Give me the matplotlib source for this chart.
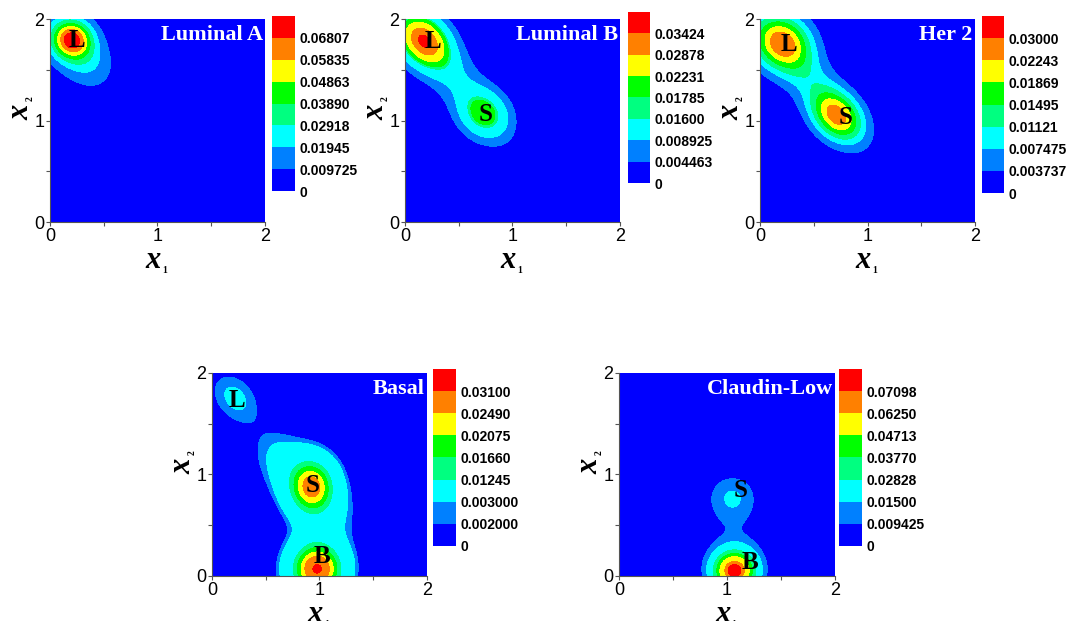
"""
Probability landscapes for the five breast cancer subtypes (filled contours).
"""

import numpy as np
import matplotlib
matplotlib.use("Agg")
import matplotlib.pyplot as plt

plt.rcParams["font.family"] = ["Liberation Sans", "DejaVu Sans"]

# colour of each band, lowest to highest
band_colors = ["#0000ff", "#0080ff", "#00ffff", "#00ff80",
               "#00ff00", "#ffff00", "#ff8000", "#ff0000"]

# peaks: (x1, x2, height, spread along, spread across, angle deg)
lum_a_peaks = [(0.20, 1.80, 0.050, 0.12, 0.12, 0),
               (0.25, 1.71, 0.030, 0.27, 0.17, -55)]
lum_b_peaks = [(0.17, 1.79, 0.030, 0.20, 0.15, -53),
               (0.74, 1.06, 0.016, 0.17, 0.15, -50),
               (0.46, 1.43, 0.009, 0.50, 0.16, -53)]
her2_peaks = [(0.20, 1.77, 0.021, 0.20, 0.18, -45),
              (0.72, 1.04, 0.020, 0.19, 0.14, -50),
              (0.46, 1.41, 0.008, 0.50, 0.16, -53)]
basal_peaks = [(0.21, 1.76, 0.0034, 0.21, 0.15, -55),
               (0.93, 0.88, 0.022, 0.18, 0.14, 90),
               (0.98, 0.06, 0.026, 0.16, 0.16, 0),
               (0.85, 0.93, 0.0065, 0.36, 0.18, -50),
               (0.97, 0.18, 0.0065, 0.26, 0.165, 90)]
claudin_peaks = [(1.07, 0.05, 0.066, 0.125, 0.125, 0),
                 (1.07, 0.12, 0.0125, 0.30, 0.25, 90),
                 (1.05, 0.78, 0.015, 0.18, 0.18, 90)]

# colour bar tick labels (band edges)
lum_a_levels = ["0", "0.009725", "0.01945", "0.02918", "0.03890",
                "0.04863", "0.05835", "0.06807"]
lum_b_levels = ["0", "0.004463", "0.008925", "0.01600", "0.01785",
                "0.02231", "0.02878", "0.03424"]
her2_levels = ["0", "0.003737", "0.007475", "0.01121", "0.01495",
               "0.01869", "0.02243", "0.03000"]
basal_levels = ["0", "0.002000", "0.003000", "0.01245", "0.01660",
                "0.02075", "0.02490", "0.03100"]
claudin_levels = ["0", "0.009425", "0.01500", "0.02828", "0.03770",
                  "0.04713", "0.06250", "0.07098"]

# state labels: (text, x1, x2)
lum_a_marks = [("L", 0.25, 1.79)]
lum_b_marks = [("L", 0.26, 1.78), ("S", 0.75, 1.06)]
her2_marks = [("L", 0.27, 1.75), ("S", 0.80, 1.03)]
basal_marks = [("L", 0.23, 1.73), ("S", 0.94, 0.89), ("B", 1.02, 0.19)]
claudin_marks = [("S", 1.13, 0.84), ("B", 1.21, 0.13)]


def density(peaks, xx, yy):
    z = np.zeros_like(xx)
    for cx, cy, amp, sa, sb, ang in peaks:
        t = np.deg2rad(ang)
        dx, dy = xx - cx, yy - cy
        u = dx * np.cos(t) + dy * np.sin(t)
        v = -dx * np.sin(t) + dy * np.cos(t)
        z += amp * np.exp(-0.5 * ((u / sa) ** 2 + (v / sb) ** 2))
    return z


def axis_label(ax, sub, xy, offset, sub_offset, rotation):
    # bold italic x with a tiny subscript, as in the original figure
    serif = dict(family="Liberation Serif", fontweight="bold", ha="center",
                 va="center", rotation=rotation, annotation_clip=False)
    ax.annotate("x", xy=xy, xycoords="axes fraction", xytext=offset,
                textcoords="offset points", fontsize=22, style="italic",
                **serif)
    ax.annotate(sub, xy=xy, xycoords="axes fraction",
                xytext=(offset[0] + sub_offset[0], offset[1] + sub_offset[1]),
                textcoords="offset points", fontsize=7, **serif)


grid = np.linspace(0, 2, 401)
xx, yy = np.meshgrid(grid, grid)

fig = plt.figure(figsize=(10.77, 6.21), dpi=100)

panels = [
    ("Luminal A", lum_a_peaks, lum_a_levels, lum_a_marks,
     [0.0464, 0.6425, 0.1996, 0.3269], [0.2526, 0.6924, 0.0214, 0.2818]),
    ("Luminal B", lum_b_peaks, lum_b_levels, lum_b_marks,
     [0.3760, 0.6425, 0.1996, 0.3269], [0.5831, 0.7053, 0.0204, 0.2754]),
    ("Her 2", her2_peaks, her2_levels, her2_marks,
     [0.7057, 0.6425, 0.1996, 0.3269], [0.9118, 0.6892, 0.0204, 0.2850]),
    ("Basal", basal_peaks, basal_levels, basal_marks,
     [0.1968, 0.0725, 0.1996, 0.3269], [0.4020, 0.1208, 0.0214, 0.2850]),
    ("Claudin-Low", claudin_peaks, claudin_levels, claudin_marks,
     [0.5747, 0.0725, 0.2006, 0.3269], [0.7790, 0.1208, 0.0214, 0.2850]),
]

for name, peaks, labels, marks, rect, crect in panels:
    ax = fig.add_axes(rect)
    lv = [float(s) for s in labels] + [1.0]
    z = density(peaks, xx, yy)
    cf = ax.contourf(xx, yy, z, levels=lv, colors=band_colors)

    ax.set_xlim(0, 2)
    ax.set_ylim(0, 2)
    ax.set_xticks([0, 1, 2])
    ax.set_yticks([0, 1, 2])
    ax.set_xticks([0.5, 1.5], minor=True)
    ax.set_yticks([0.5, 1.5], minor=True)
    ax.tick_params(which="both", direction="out", length=3, width=0.8,
                   color="#555555", labelsize=13, pad=1)
    for side in ["top", "right"]:
        ax.spines[side].set_visible(False)
    for side in ["left", "bottom"]:
        ax.spines[side].set_color("#555555")
        ax.spines[side].set_linewidth(0.8)

    axis_label(ax, "1", (0.5, 0.0), (-3, -28), (8, -7), 0)
    axis_label(ax, "2", (0.0, 0.5), (-21, 6), (7, 10), 90)

    ax.text(0.99, 0.92, name, transform=ax.transAxes, ha="right", va="center",
            color="white", fontsize=16, fontweight="bold",
            family="Liberation Serif")
    for txt, mx, my in marks:
        ax.text(mx, my, txt, ha="center", va="center", fontsize=18,
                fontweight="bold", family="Liberation Serif", color="black")

    cax = fig.add_axes(crect)
    cb = fig.colorbar(cf, cax=cax, ticks=lv[:-1])
    cb.ax.set_yticklabels(labels)
    cb.outline.set_visible(False)
    cb.ax.tick_params(length=0, labelsize=10, pad=3)
    for lab in cb.ax.get_yticklabels():
        lab.set_fontweight("bold")

fig.savefig("out.png", dpi=100)
plt.close(fig)
